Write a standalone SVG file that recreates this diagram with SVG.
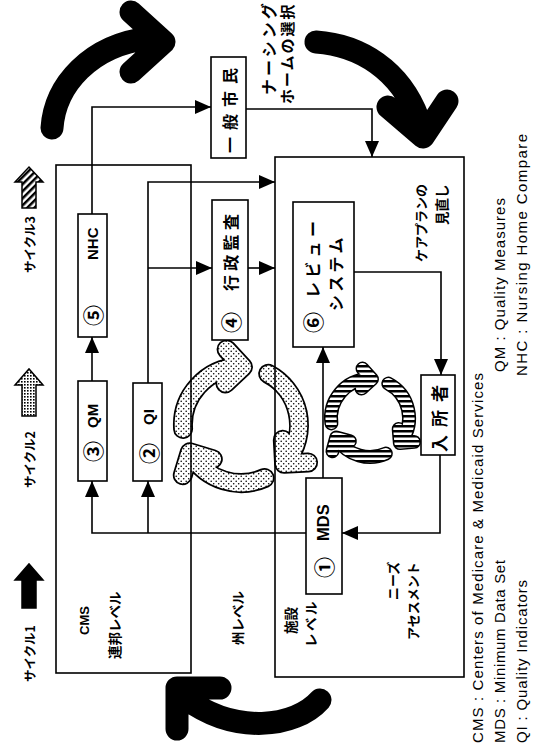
<svg xmlns="http://www.w3.org/2000/svg" width="534" height="753" viewBox="0 0 534 753">
<style>
.t{font-family:"Liberation Sans","Noto Sans CJK JP",sans-serif;fill:#000;dominant-baseline:central}
.j{font-family:"Noto Sans CJK JP",sans-serif;fill:#000;dominant-baseline:central;font-weight:bold}
.n{font-family:"Noto Sans CJK JP",sans-serif;fill:#000;dominant-baseline:central;font-weight:bold;font-size:21px}
.b{font-weight:bold}
.box{fill:#fff;stroke:#000;stroke-width:1.6}
.frame{fill:none;stroke:#000;stroke-width:1.6}
.ln{fill:none;stroke:#000;stroke-width:1.6;marker-end:url(#ah)}
.big{fill:none;stroke:#000;stroke-width:23;stroke-linecap:round;stroke-linejoin:round}
.o2{fill:none;stroke:#000;stroke-width:20;stroke-linecap:round;stroke-linejoin:round}
.i2{fill:none;stroke:url(#dots);stroke-width:16.5;stroke-linecap:round;stroke-linejoin:round}
.o3{fill:none;stroke:#000;stroke-width:14;stroke-linecap:round;stroke-linejoin:round}
.i3{fill:none;stroke:url(#hs);stroke-width:11;stroke-linecap:round;stroke-linejoin:round}
</style>
<defs>
<marker id="ah" markerUnits="userSpaceOnUse" markerWidth="16" markerHeight="14" refX="16" refY="7" orient="auto"><path d="M0,0 L16,7 L0,14 z" fill="#000"/></marker>
<pattern id="dots" width="5" height="5" patternUnits="userSpaceOnUse"><rect width="5" height="5" fill="#fff"/><circle cx="1.2" cy="1.2" r="0.8" fill="#000"/><circle cx="3.7" cy="3.7" r="0.8" fill="#000"/></pattern>
<pattern id="hs" width="6" height="5" patternUnits="userSpaceOnUse"><rect width="6" height="5" fill="#fff"/><rect width="6" height="2.5" fill="#000"/></pattern>
<pattern id="dg" width="5" height="5" patternUnits="userSpaceOnUse" patternTransform="rotate(45)"><rect width="5" height="5" fill="#fff"/><rect width="2.5" height="5" fill="#000"/></pattern>
<pattern id="grid" width="3" height="3" patternUnits="userSpaceOnUse"><rect width="3" height="3" fill="#fff"/><rect width="1.6" height="1.6" fill="#000"/></pattern>
</defs>

<!-- big black cycle arrows -->
<g id="big-arrows">
<path class="big" d="M52,128 C55,85 90,45 150,38 M131,12 L164,42 L131,72"/>
<path class="big" d="M316,42 C360,45 400,70 418,118 M388,107 L423,137 L447,101"/>
<path class="big" d="M320,700 C295,728 235,735 185,698 M220,688 L177,688 L177,729"/>
</g>

<!-- cycle 2 (dotted) -->
<g id="cycle2">
<path class="o2" d="M183.1,429 A58,58 0 0 1 239,367 M226.6,349.4 L243,367 L225.4,383.4"/>
<path class="i2" d="M183.1,429 A58,58 0 0 1 239,367 M226.6,349.4 L243,367 L225.4,383.4"/>
<path class="o2" d="M268.2,373.8 A58,58 0 0 1 286.7,460.7 M308.1,462.5 L284.1,463.8 L282.8,439.8"/>
<path class="i2" d="M268.2,373.8 A58,58 0 0 1 286.7,460.7 M308.1,462.5 L284.1,463.8 L282.8,439.8"/>
<path class="o2" d="M264.6,478 A58,58 0 0 1 191.8,455.7 M182.8,475.2 L189.8,452.2 L212.8,459.2"/>
<path class="i2" d="M264.6,478 A58,58 0 0 1 191.8,455.7 M182.8,475.2 L189.8,452.2 L212.8,459.2"/>
</g>

<!-- cycle 3 (striped) -->
<g id="cycle3">
<path class="o3" d="M331.4,423.4 A39,39 0 0 1 368.6,379 M362.5,368.6 L372,379.1 L361.5,388.6"/>
<path class="i3" d="M331.4,423.4 A39,39 0 0 1 368.6,379 M362.5,368.6 L372,379.1 L361.5,388.6"/>
<path class="o3" d="M388.3,383.6 A39,39 0 0 1 401.6,440.9 M414,441.9 L399.9,443.1 L398.7,429"/>
<path class="i3" d="M388.3,383.6 A39,39 0 0 1 401.6,440.9 M414,441.9 L399.9,443.1 L398.7,429"/>
<path class="o3" d="M385.9,453.6 A39,39 0 0 1 337.7,439.8 M332.5,451.2 L336.2,437.5 L349.9,441.2"/>
<path class="i3" d="M385.9,453.6 A39,39 0 0 1 337.7,439.8 M332.5,451.2 L336.2,437.5 L349.9,441.2"/>
</g>

<!-- legend of cycles -->
<g id="legend-cycles">
<path d="M15,182 L29,167 L43,182 L36,182 L36,208 L22,208 L22,182 z" fill="url(#dg)" stroke="#000" stroke-width="1.5"/>
<text class="j" font-size="12.5" transform="translate(29,273) rotate(-90)">サイクル3</text>
<path d="M15,385 L29,369 L43,385 L36,385 L36,416 L22,416 L22,385 z" fill="url(#grid)" stroke="#000" stroke-width="1.5"/>
<text class="j" font-size="12.5" transform="translate(29,488) rotate(-90)">サイクル2</text>
<path d="M15,580 L29,564 L43,580 L36,580 L36,608 L22,608 L22,580 z" fill="#000" stroke="#000" stroke-width="1.5"/>
<text class="j" font-size="12.5" transform="translate(29,682) rotate(-90)">サイクル1</text>
</g>

<!-- level frames -->
<g id="cms-level">
<rect class="frame" x="56" y="165" width="135" height="508"/>
<text class="t b" font-size="13" transform="translate(84,635) rotate(-90)">CMS</text>
<text class="j" font-size="13.5" transform="translate(114,659) rotate(-90)">連邦レベル</text>
</g>
<g id="state-level">
<text class="j" font-size="13.5" transform="translate(237,645) rotate(-90)">州レベル</text>
</g>
<g id="facility-level">
<rect class="frame" x="275" y="157" width="189" height="520"/>
<text class="j" font-size="13.5" transform="translate(290,634) rotate(-90)">施設</text>
<text class="j" font-size="13.5" letter-spacing="2.5" transform="translate(310,647) rotate(-90)">レベル</text>
<text class="j" font-size="13" transform="translate(392,600) rotate(-90)">ニーズ</text>
<text class="j" font-size="13" transform="translate(412,640) rotate(-90)">アセスメント</text>
<text class="j" font-size="13" transform="translate(420,262) rotate(-90)">ケアプランの</text>
<text class="j" font-size="13.5" transform="translate(441,225) rotate(-90)">見直し</text>
</g>

<!-- nodes -->
<g id="n-citizen">
<rect class="box" x="211" y="57" width="35" height="101"/>
<text class="j" font-size="16" letter-spacing="7" transform="translate(229,153) rotate(-90)">一般市民</text>
</g>
<g id="n-choice">
<text class="j" font-size="16" letter-spacing="3" transform="translate(268,95) rotate(-90)">ナーシング</text>
<text class="j" font-size="15" letter-spacing="2" transform="translate(286,104) rotate(-90)">ホームの選択</text>
</g>
<g id="n-nhc">
<rect class="box" x="78" y="214" width="29" height="123"/>
<text class="n" transform="translate(92,326) rotate(-90)">⑤</text>
<text class="t b" font-size="15" transform="translate(92,260) rotate(-90)">NHC</text>
</g>
<g id="n-qm">
<rect class="box" x="78" y="381" width="29" height="100"/>
<text class="n" transform="translate(92,462) rotate(-90)">③</text>
<text class="t b" font-size="15" transform="translate(92,428) rotate(-90)">QM</text>
</g>
<g id="n-qi">
<rect class="box" x="133" y="383" width="29" height="98"/>
<text class="n" transform="translate(148,464) rotate(-90)">②</text>
<text class="t b" font-size="15" transform="translate(148,425) rotate(-90)">QI</text>
</g>
<g id="n-audit">
<rect class="box" x="212" y="200" width="36" height="140"/>
<text class="n" transform="translate(230,333) rotate(-90)">④</text>
<text class="j" font-size="16" letter-spacing="4.3" transform="translate(230,291) rotate(-90)">行政監査</text>
</g>
<g id="n-review">
<rect class="box" x="293" y="202" width="61" height="145"/>
<text class="n" transform="translate(312,333) rotate(-90)">⑥</text>
<text class="j" font-size="16" letter-spacing="4.3" transform="translate(312,298) rotate(-90)">レビュー</text>
<text class="j" font-size="16" letter-spacing="3.3" transform="translate(335,311) rotate(-90)">システム</text>
</g>
<g id="n-resident">
<rect class="box" x="421" y="375" width="34" height="80"/>
<text class="j" font-size="17" letter-spacing="8" transform="translate(438,452) rotate(-90)">入所者</text>
</g>
<g id="n-mds">
<rect class="box" x="306" y="478" width="36" height="116"/>
<text class="n" transform="translate(323,578) rotate(-90)">①</text>
<text class="t b" font-size="16.5" transform="translate(323,541) rotate(-90)">MDS</text>
</g>

<!-- connectors -->
<g id="connectors">
<path class="ln" d="M92,381 L92,337"/>
<path class="ln" d="M92,214 L92,107 L211,107"/>
<path class="ln" d="M246,109 L372,109 L372,157"/>
<path class="ln" d="M148,383 L148,182 L275,182"/>
<path class="ln" d="M148,268 L212,268"/>
<path class="ln" d="M248,268 L275,268"/>
<path class="ln" d="M354,272 L441,272 L441,375"/>
<path class="ln" d="M440,455 L440,533 L342,533"/>
<path class="ln" d="M323,478 L323,347"/>
<path class="ln" d="M306,533 L92,533 L92,481"/>
<path class="ln" d="M148,533 L148,481"/>
</g>

<!-- abbreviations legend -->
<g id="abbrev">
<text class="t" font-size="15" transform="translate(477,743) rotate(-90)" textLength="370">CMS : Centers of Medicare &amp; Medicaid Services</text>
<text class="t" font-size="15" transform="translate(499,743) rotate(-90)" textLength="183">MDS : Minimum Data Set</text>
<text class="t" font-size="15" transform="translate(521,743) rotate(-90)" textLength="163">QI : Quality Indicators</text>
<text class="t" font-size="15" transform="translate(499,372) rotate(-90)" textLength="174">QM : Quality Measures</text>
<text class="t" font-size="15" transform="translate(521,376) rotate(-90)" textLength="242">NHC : Nursing Home Compare</text>
</g>
</svg>
